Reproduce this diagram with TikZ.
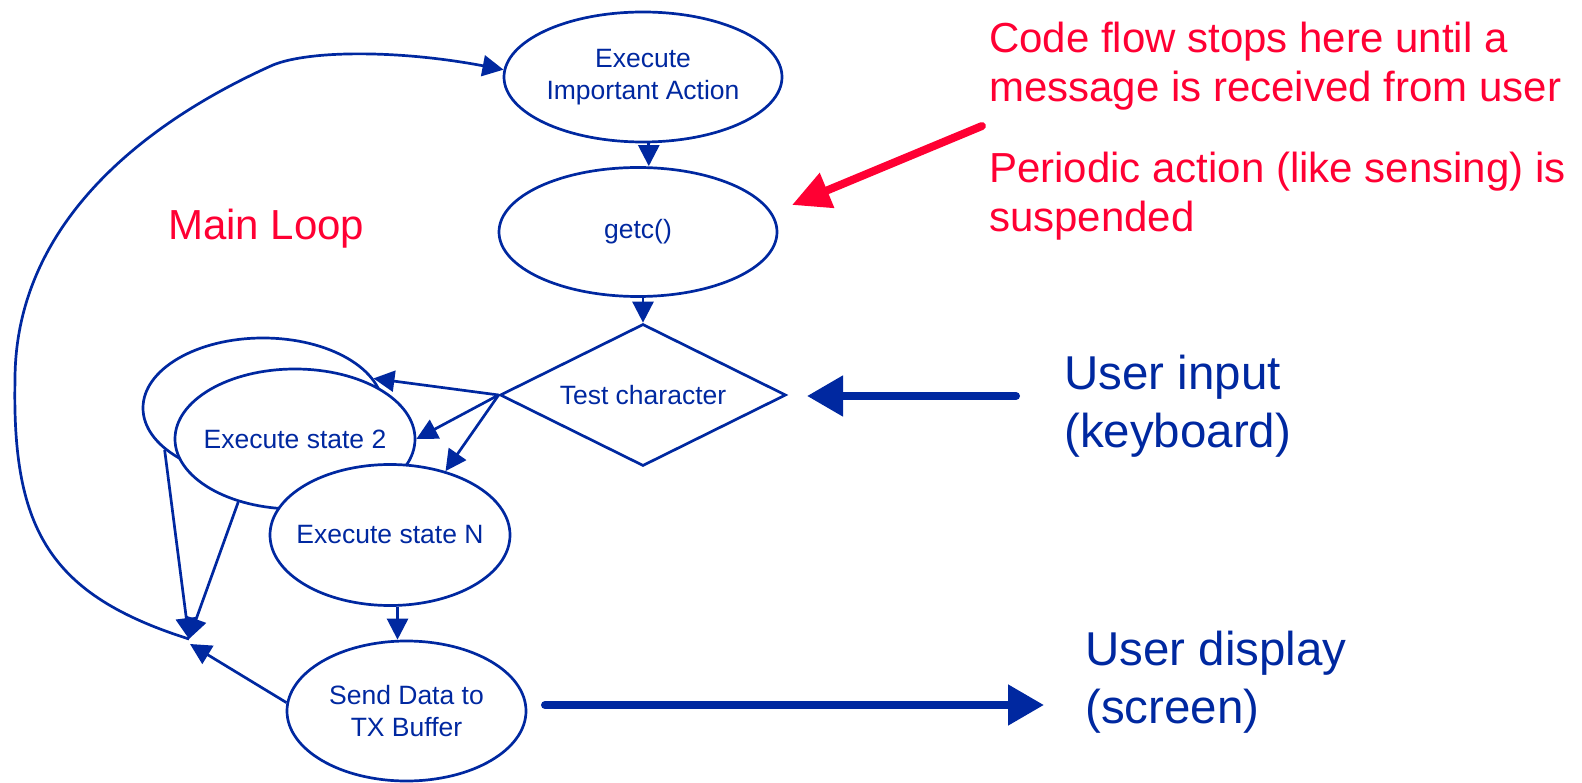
\documentclass[tikz,border=0pt]{standalone}
\usepackage{fontspec}
\setmainfont{Liberation Sans}
\usetikzlibrary{shapes.geometric,arrows.meta}
\definecolor{dblue}{HTML}{0028A0}
\definecolor{tred}{HTML}{FF0033}
\begin{document}
\begin{tikzpicture}[x=1pt,y=-1pt,
  st/.style={ellipse, draw=dblue, line width=2.7pt, fill=white, inner xsep=-30pt, inner ysep=0pt,
    text=dblue, font=\fontsize{26.5}{32}\selectfont, align=center},
  arr/.style={draw=dblue, line width=2.7pt, -{Triangle[length=21pt,width=21pt]}},
  big/.style={draw=dblue, line width=8pt, line cap=round, -{Triangle[length=36pt,width=39pt]}},
  redarr/.style={draw=tred, line width=8pt, line cap=round, -{Triangle[length=38pt,width=36pt]}},
  rtext/.style={text=tred, font=\fontsize{42}{49}\selectfont, align=left, inner sep=0pt},
  btext/.style={text=dblue, font=\fontsize{47.5}{58}\selectfont, align=left, inner sep=0pt}]
\useasboundingbox (0,0) rectangle (1582,783);
% state ellipses (stacked)
\node[st, minimum width=240pt, minimum height=140pt] (s1) at (263,408) {};
\node[st, minimum width=240pt, minimum height=140pt] (s2) at (295,439) {Execute state 2};
\node[st, minimum width=240pt, minimum height=141pt] (sN) at (390,535) {Execute state N};
\node[st, minimum width=278pt, minimum height=130pt] (exec) at (643,77) {Execute\\Important Action};
\node[st, minimum width=278pt, minimum height=129pt] (getc) at (638,232) {getc()};
\node[diamond, shape aspect=2, draw=dblue, line width=2.7pt, inner sep=0pt,
  minimum width=286pt, minimum height=142pt, text=dblue, font=\fontsize{26.5}{32}\selectfont] (test) at (643,395) {Test character};
\node[st, minimum width=239pt, minimum height=140pt] (send) at (406.5,711) {Send Data to\\TX Buffer};
% texts (base anchor = baseline of the last line)
\node[rtext, anchor=base west] (main) at (168,240) {Main Loop};
\node[rtext, anchor=base west] (note1) at (989,102) {Code flow stops here until a\\message is received from user};
\node[rtext, anchor=base west] (note2) at (989,232) {Periodic action (like sensing) is\\suspended};
\node[btext, anchor=base west] (uin) at (1064,447) {User input\\(keyboard)};
\node[btext, anchor=base west] (udisp) at (1085,723) {User display\\(screen)};
% coordinates
\coordinate (merge) at (189,639);
\coordinate (merge2) at (190,644);
\coordinate (kbdTail) at (1016,396);
\coordinate (kbdTip) at (807,396);
\coordinate (dispTail) at (545,705);
\coordinate (dispTip) at (1044,705);
\coordinate (noteTail) at (982,126);
\coordinate (noteTip) at (792,205);
% connectors
\draw[arr] (exec.-85.7) -- (exec.-85.7 |- getc.north);
\draw[arr] (test.north |- getc.south) -- (test.north);
\draw[arr] (test.west) -- (s1.15.4);
\draw[arr] (test.west) -- (s2.east);
\draw[arr] (test.west) -- (sN.49);
\draw[arr] (sN.-84.5) -- (sN.-84.5 |- send.north);
\draw[arr] (s1.203) -- (merge);
\draw[arr] (s2.228) -- (merge);
\draw[arr] (send.176) -- (merge2);
\draw[arr] (merge) .. controls (50,595) and (12,530) .. (15,380)
  .. controls (15,220) and (150,120) .. (273,65)
  .. controls (310,50) and (400,50) .. (exec.177);
\draw[big] (kbdTail) -- (kbdTip);
\draw[big] (dispTail) -- (dispTip);
\draw[redarr] (noteTail) -- (noteTip);
\end{tikzpicture}
\end{document}
